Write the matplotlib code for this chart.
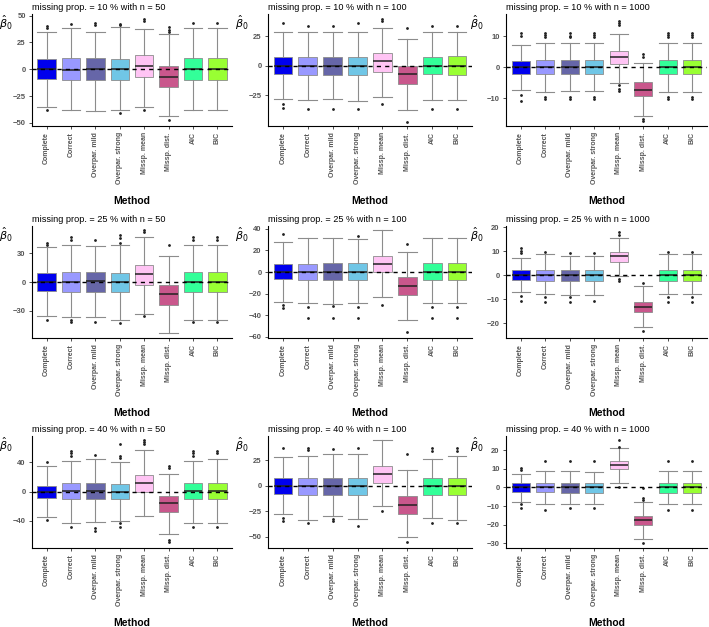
import matplotlib
matplotlib.use('Agg')
import matplotlib.pyplot as plt

plt.rcParams['font.family'] = ['Liberation Sans', 'DejaVu Sans']

methods = ['Complete', 'Correct', 'Overpar. mild', 'Overpar. strong',
           'Missp. mean', 'Missp. dist.', 'AIC', 'BIC']
box_colors = ['#0000EE', '#9999FF', '#6666A8', '#70C6E6',
              '#FFC4F4', '#C9578C', '#33FF99', '#99FF33']
miss_props = [10, 10, 10, 25, 25, 25, 40, 40, 40]
sample_sizes = [50, 100, 1000, 50, 100, 1000, 50, 100, 1000]

q1 = [
    [-9.3, -9.9, -9.9, -9.9, -6.8, -16.8, -9.9, -9.9],
    [-7.3, -8, -8, -8, -5.6, -16, -7.5, -8],
    [-2.1, -2.2, -2.2, -2.2, 0.9, -9.4, -2.2, -2.2],
    [-9.4, -10, -10, -10.8, -3, -24, -10, -10],
    [-6.9, -7, -7.5, -7.5, 0, -21, -7.5, -7.5],
    [-2, -2.2, -2.2, -2.2, 5.7, -15.4, -2.2, -2.2],
    [-9.1, -10.5, -10.5, -10.5, -1, -27.4, -10.5, -10.5],
    [-8.2, -9.2, -9.2, -9.2, 3, -27.9, -9.2, -9.2],
    [-2.3, -2.7, -3.2, -3.2, 9.6, -20.2, -3.2, -3.2],
]
med = [
    [0, -0.5, 0, 0, 3, -6.8, 0, 0],
    [0, -0.3, 0, 0, 3.7, -7.3, 0, 0],
    [0, 0, 0, 0, 3.2, -7.3, 0, 0],
    [0, 0.3, 1, 0.3, 8.7, -12.8, 0.3, 0.3],
    [0, 0, 0, 0, 7.5, -13.4, 0, 0],
    [0, 0, 0, 0, 7.9, -13.3, 0, 0],
    [0, 1, 1, 0, 11.4, -16, 1, 1.5],
    [0, -0.7, -0.7, -0.7, 11.1, -19, -0.7, -0.7],
    [0, 0, 0, 0, 12, -17.5, 0, 0],
]
q3 = [
    [9.3, 10.2, 10.2, 9.6, 13.4, 3.1, 10.2, 10.2],
    [7.3, 7, 7.5, 7.5, 10.7, 0, 7.5, 8],
    [2.1, 2.2, 2.2, 2.2, 5.3, -4.8, 2.2, 2.2],
    [9, 10.8, 10.8, 9.4, 17.7, -3, 10.5, 10.5],
    [7.2, 7.5, 8, 8, 15, -4.7, 8, 8],
    [2.2, 2.2, 2.2, 2.2, 9.9, -11, 2.2, 2.2],
    [8.2, 11.4, 11.4, 10.5, 22.8, -5.5, 11.4, 11.8],
    [7.9, 7.2, 7.2, 7.9, 19.7, -10.2, 7.2, 7.5],
    [2.1, 2.1, 2.5, 2.5, 14.1, -15.2, 2.5, 2.5],
]
whislo = [
    [-34.8, -37.9, -38.8, -37.9, -35.4, -43.5, -37.9, -37.9],
    [-28, -29, -28, -30, -26.5, -38, -29, -29],
    [-7.5, -8, -7.7, -7.7, -5, -15.7, -8, -8],
    [-35, -36, -36, -40, -33, -53.5, -40, -40],
    [-27.5, -28.7, -29.5, -28.7, -23.4, -45, -28.7, -28.7],
    [-7.1, -7.9, -8.2, -8.2, -0.3, -21.4, -7.9, -7.9],
    [-34, -42.5, -41, -40, -33, -58.4, -42.5, -43.4],
    [-28.2, -33.8, -29.5, -32.8, -19.7, -50, -32, -33.8],
    [-8, -9.1, -9.1, -9.1, 2.5, -27.7, -9.1, -9.1],
]
whishi = [
    [35, 38.5, 34.8, 39, 37.3, 32.6, 38.5, 38.5],
    [29, 29, 29, 29, 32.5, 22.6, 29, 29],
    [7.2, 7.7, 7.7, 7.7, 10.7, 1.3, 7.7, 7.7],
    [36, 38.5, 38, 39, 47, 27, 38.5, 38.5],
    [28, 32, 32, 31, 39, 18.7, 32, 32],
    [7.4, 8.7, 8.2, 8.2, 15.7, -4.4, 8.7, 8.7],
    [35, 42, 44.7, 41, 57, 23.7, 42, 44.7],
    [28.5, 29.5, 30.8, 30.8, 45, 15.4, 26, 29.5],
    [7, 8.8, 8.8, 8.4, 20.9, -8, 8.8, 8.8],
]
outliers = [
    [[40.4, 38.5, -37.9], [42], [42.9, 41], [42, 41, -41], [46.6, 44.7, -37.9],
     [39.8, 37, 35, -47.2], [42.9], [42.9]],
    [[36, -33, -36], [34, -37], [34, -37], [36, -37], [40, 38, -33],
     [32, -48], [34, -37], [34, -37]],
    [[11, 10, -8.9, -11], [11, 10.4, 9.8, -9.6, -10.4], [11, 10, 9.7, -9.6, -10.2],
     [11, 10.4, 9.8, -9.6, -10.2], [15, 14.1, 13.4, -5.9, -7, -7.7],
     [4.3, 3.4, -16.8, -17.3], [11, 10.4, 9.8, -9.6, -10.2], [11, 10.4, 9.8, -9.6, -10.2]],
    [[41, 38.5, -39.6], [47, 44, -39.6, -42], [44, -42], [49, 46, 41, -43],
     [54, 52, -35], [38.5], [47, 44, -42], [47, 44, -42]],
    [[35, -30.6, -33.4], [-32.8, -43], [-31.5, -43], [33.4, -32.8, -43], [-30.6],
     [26, -55.6], [-32.8, -43], [-32.8, -43]],
    [[11.2, 10.3, 9.4, -8.5, -10.7], [9.9, -9.2, -11.3], [9.4, -8.9, -11], [9.4, -10.6],
     [18.2, 16.8, -1.5, -2.4], [-3.3, -23.2], [9.9, -9.2, -11.3], [9.9, -9.2, -11.3]],
    [[40, -39], [55.7, 52.5, 49, -49], [50, -50, -54], [65, 49, 46.6, -43, -48],
     [70.8, 68.5, 66], [35.6, 32, -66, -69.4], [55.7, 52.5, 49, -49], [55.7, 52.5, -49]],
    [[36.7, -32, -34.8], [36.7, 35, -37], [36, -32.8, -34.8], [36.7, -39.7], [-25],
     [31, -55.7], [36.7, 34, -37], [36.7, 34, -37]],
    [[10.5, 9.5, -9.1, -11.2], [14.1, -12.1], [14.1, -11.2], [14.1, -10.9],
     [25.4, 21.8, 0.4], [-0.5, -5.9, -6.8, -30], [14.1, -12.1], [14.1, -12.1]],
]
y_limits = [(-52.8, 51.5), (-51.4, 44), (-19, 17.1),
            (-58, 58.7), (-61, 43), (-26, 20.7),
            (-76.7, 76.7), (-61, 49), (-32.3, 27.7)]
y_ticks = [[-50, -25, 0, 25, 50], [-25, 0, 25], [-10, 0, 10],
           [-30, 0, 30], [-60, -40, -20, 0, 20, 40], [-20, -10, 0, 10, 20],
           [-40, 0, 40], [-50, -25, 0, 25], [-30, -20, -10, 0, 10, 20]]

W, H = 709, 627
fig = plt.figure(figsize=(W / 100, H / 100), dpi=100)
col_left = [32, 268, 506]
col_width = [200, 204, 201]
row_top = [14, 225.7, 435.7]
row_bot = [126, 337.7, 547.7]
label_dx = [-26, -26, -29]

for i in range(9):
    r, c = divmod(i, 3)
    ax = fig.add_axes([col_left[c] / W, 1 - row_bot[r] / H,
                       col_width[c] / W, (row_bot[r] - row_top[r]) / H])
    stats = []
    for j in range(8):
        stats.append(dict(med=med[i][j], q1=q1[i][j], q3=q3[i][j],
                          whislo=whislo[i][j], whishi=whishi[i][j],
                          fliers=outliers[i][j], label=methods[j]))
    bp = ax.bxp(stats, positions=list(range(1, 9)), widths=0.75, capwidths=0.75,
                patch_artist=True,
                boxprops=dict(edgecolor='#8c8c8c', linewidth=0.6),
                whiskerprops=dict(color='#8c8c8c', linewidth=0.8),
                capprops=dict(color='#8c8c8c', linewidth=0.8),
                medianprops=dict(color='#222222', linewidth=1.1),
                flierprops=dict(marker='o', markersize=1.0, markerfacecolor='#222222',
                                markeredgecolor='#222222', linestyle='none'))
    for patch, col in zip(bp['boxes'], box_colors):
        patch.set_facecolor(col)
    ax.axhline(0, color='black', linestyle=(0, (3, 3)), linewidth=1.0, zorder=6)
    ax.set_xlim(0.4, 8.6)
    ax.set_ylim(*y_limits[i])
    ax.set_yticks(y_ticks[i])
    ax.set_xticks(list(range(1, 9)))
    ax.set_xticklabels(methods, rotation=90, fontsize=5, fontweight='bold', color='#555555')
    for lab in ax.get_yticklabels():
        lab.set_fontsize(5.5)
        lab.set_fontweight('bold')
        lab.set_color('#555555')
    ax.tick_params(axis='both', length=2.5, width=0.6, color='#333333', pad=2)
    for s in ['top', 'right']:
        ax.spines[s].set_visible(False)
    for s in ['left', 'bottom']:
        ax.spines[s].set_linewidth(0.8)
        ax.spines[s].set_color('black')
    ax.set_title(f'missing prop. = {miss_props[i]} % with n = {sample_sizes[i]}',
                 loc='left', fontsize=6.6, pad=3)
    ax.annotate(r'$\hat{\beta}_0$', xy=(0, 1), xycoords='axes fraction',
                xytext=(label_dx[c], 0), textcoords='offset pixels',
                ha='center', va='top', fontsize=8)
    ax.annotate('Method', xy=(0.5, 0), xycoords='axes fraction',
                xytext=(0, -75), textcoords='offset pixels',
                ha='center', va='center', fontsize=7.5, fontweight='bold')

fig.savefig('out.png', dpi=100)
